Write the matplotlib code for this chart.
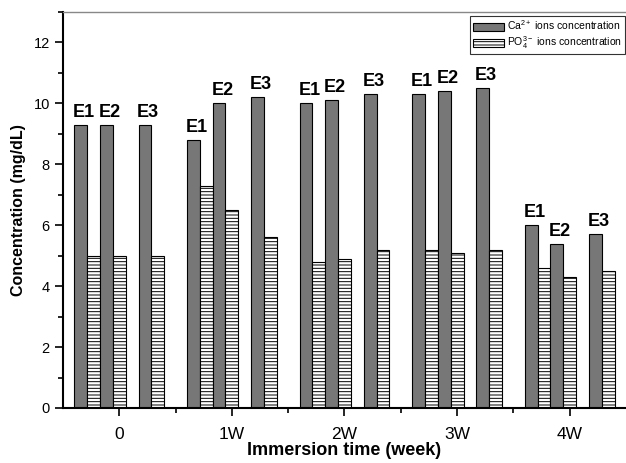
import numpy as np
import matplotlib
matplotlib.use("Agg")
import matplotlib.pyplot as plt
from matplotlib.ticker import MultipleLocator

plt.rcParams['font.family'] = ['Liberation Sans', 'DejaVu Sans']
plt.rcParams['mathtext.default'] = 'regular'
plt.rcParams['hatch.linewidth'] = 0.7
plt.rcParams['hatch.color'] = '#333333'

# data
weeks = ['0', '1W', '2W', '3W', '4W']
samples = ['E1', 'E2', 'E3']
ca = [[9.3, 9.3, 9.3],
      [8.8, 10.0, 10.2],
      [10.0, 10.1, 10.3],
      [10.3, 10.4, 10.5],
      [6.0, 5.4, 5.7]]
po4 = [[5.0, 5.0, 5.0],
       [7.3, 6.5, 5.6],
       [4.8, 4.9, 5.2],
       [5.2, 5.1, 5.2],
       [4.6, 4.3, 4.5]]

w = 0.114                  # bar width
ca_off = [-3, -1, 2]       # slot of each sample's Ca bar, in bar widths
po_off = [-2, 0, 3]

fig = plt.figure(figsize=(6.26, 4.63), dpi=100)
ax = fig.add_axes([0.1006, 0.1188, 0.8994, 0.8553])

x = np.arange(len(weeks))
ca = np.array(ca)
po4 = np.array(po4)
for j in range(len(samples)):
    lab1 = 'Ca$^{2+}$ ions concentration' if j == 0 else None
    lab2 = 'PO$_4^{3-}$ ions concentration' if j == 0 else None
    ax.bar(x + ca_off[j]*w, ca[:, j], w, color='#777777', edgecolor='black',
           linewidth=0.8, label=lab1)
    ax.bar(x + po_off[j]*w, po4[:, j], w, color='white', edgecolor='black',
           linewidth=0.8, hatch='-----', label=lab2)
    for i in range(len(weeks)):
        ax.text(x[i] + (ca_off[j]-0.6)*w, ca[i, j] + 0.13, samples[j],
                ha='left', va='bottom', fontsize=13, fontweight='bold')

ax.set_xlim(-0.5, 4.5)
ax.set_ylim(0, 13)
ax.set_xticks(x)
ax.set_xticklabels(weeks, fontsize=12.5)
ax.set_xticks(x[:-1] + 0.5, minor=True)
ax.yaxis.set_major_locator(MultipleLocator(2))
ax.yaxis.set_minor_locator(MultipleLocator(1))
ax.tick_params(axis='y', which='major', labelsize=10.5, length=6, width=1.2)
ax.tick_params(axis='y', which='minor', length=3.5, width=1.2)
ax.tick_params(axis='x', which='major', length=6, width=1.2, pad=8)
ax.tick_params(axis='x', which='minor', length=3.5, width=1.2)

ax.spines['right'].set_visible(False)
ax.spines['top'].set_color('#888888')
ax.spines['top'].set_linewidth(1.0)
ax.spines['left'].set_linewidth(1.5)
ax.spines['bottom'].set_linewidth(1.5)

ax.set_xlabel('Immersion time (week)', fontsize=13, fontweight='bold', labelpad=0)
ax.set_ylabel('Concentration (mg/dL)', fontsize=11.5, fontweight='bold', labelpad=5)

leg = ax.legend(loc='upper right', bbox_to_anchor=(0.998, 0.99), borderaxespad=0,
                fontsize=7.5, frameon=True, fancybox=False, handlelength=3.0,
                handleheight=0.8, labelspacing=0.2, borderpad=0.25,
                handletextpad=0.3)
leg.get_frame().set_edgecolor('black')
leg.get_frame().set_linewidth(0.8)

fig.savefig('out.png', dpi=100)
